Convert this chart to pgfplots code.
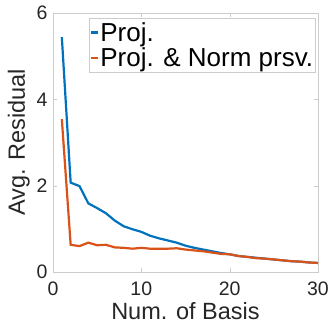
\documentclass[border=0pt]{standalone}
\usepackage{pgfplots}
\pgfplotsset{compat=1.18}
\usepackage{fontspec}
\setmainfont{Liberation Sans}
\definecolor{mblue}{rgb}{0,0.447,0.741}
\definecolor{morange}{rgb}{0.85,0.325,0.098}
\definecolor{axgray}{gray}{0.8}
\definecolor{txt}{gray}{0.15}
\begin{document}
\begin{tikzpicture}
\begin{axis}[
  scale only axis, width=265pt, height=259pt,
  xmin=0, xmax=30, ymin=0, ymax=6,
  xtick={0,10,20,30}, ytick={0,2,4,6},
  /pgf/number format/assume math mode=true,
  tick label style={font=\fontsize{19.5}{20}\selectfont, text=txt},
  label style={font=\fontsize{23.5}{24}\selectfont, text=txt},
  xlabel={Num. of Basis}, ylabel={Avg. Residual},
  axis line style={axgray}, tick style={axgray},
  tick align=inside, major tick length=4pt,
  xticklabel style={yshift=-6pt},
  yticklabel style={xshift=-2pt},
  legend style={at={(rel axis cs:0.99,0.98)}, anchor=north east, draw=axgray,
    font=\fontsize{26}{29}\selectfont, inner xsep=1pt, inner ysep=3pt, row sep=3pt, text=black,
    nodes={inner sep=1pt}},
  legend cell align=left,
  legend image code/.code={\draw[#1] (0pt,0pt) -- (7pt,0pt);},
]
\addplot[mblue, line width=2.2pt] coordinates {
(1,5.44)(2,2.07)(3,1.99)(4,1.59)(5,1.48)(6,1.36)(7,1.19)(8,1.06)(9,0.99)(10,0.93)
(11,0.84)(12,0.78)(13,0.73)(14,0.68)(15,0.61)(16,0.56)(17,0.52)(18,0.48)(19,0.44)(20,0.41)
(21,0.37)(22,0.35)(23,0.33)(24,0.31)(25,0.29)(26,0.27)(27,0.25)(28,0.24)(29,0.22)(30,0.21)};
\addlegendentry{Proj.}
\addplot[morange, line width=2.2pt] coordinates {
(1,3.54)(2,0.63)(3,0.60)(4,0.68)(5,0.62)(6,0.63)(7,0.57)(8,0.56)(9,0.54)(10,0.56)
(11,0.54)(12,0.54)(13,0.54)(14,0.55)(15,0.52)(16,0.50)(17,0.48)(18,0.45)(19,0.42)(20,0.41)
(21,0.37)(22,0.35)(23,0.32)(24,0.31)(25,0.29)(26,0.27)(27,0.25)(28,0.24)(29,0.22)(30,0.21)};
\addlegendentry{Proj. \& Norm prsv.}
\end{axis}
\pgfresetboundingbox
\path[use as bounding box] ([xshift=-53pt,yshift=-58pt]current axis.south west) rectangle ++(330pt,330pt);
\end{tikzpicture}
\end{document}
